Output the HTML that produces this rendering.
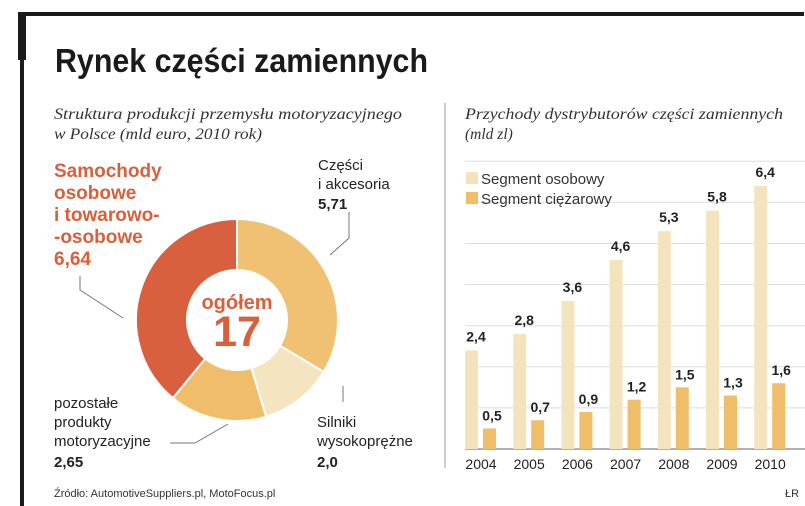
<!DOCTYPE html>
<html><head><meta charset="utf-8">
<style>
body{margin:0;background:#fff;width:805px;height:506px;overflow:hidden;font-family:"Liberation Sans",sans-serif;}
svg{display:block}
</style></head>
<body>
<svg width="805" height="506" viewBox="0 0 805 506" xmlns="http://www.w3.org/2000/svg">
<rect x="18" y="12" width="786" height="4" fill="#1a1a1a"/>
<rect x="18" y="12" width="8" height="48" fill="#1a1a1a"/>
<rect x="20" y="12" width="4" height="494" fill="#1a1a1a"/>
<text x="55" y="72" font-size="33" font-weight="bold" fill="#1a1a1a" textLength="373" lengthAdjust="spacingAndGlyphs">Rynek części zamiennych</text>
<text x="54" y="119" font-family="Liberation Serif" font-style="italic" font-size="15.5" fill="#333"><tspan x="54" textLength="348" lengthAdjust="spacingAndGlyphs">Struktura produkcji przemysłu motoryzacyjnego</tspan><tspan x="54" dy="20" textLength="208" lengthAdjust="spacingAndGlyphs">w Polsce (mld euro, 2010 rok)</tspan></text>
<text x="465" y="119" font-family="Liberation Serif" font-style="italic" font-size="15.5" fill="#333"><tspan x="465" textLength="318" lengthAdjust="spacingAndGlyphs">Przychody dystrybutorów części zamiennych</tspan><tspan x="465" dy="20">(mld zl)</tspan></text>
<line x1="445" y1="103" x2="445" y2="468" stroke="#bbb" stroke-width="1.5"/>
<g id="pie"></g>
<text x="54" y="177" font-size="19" font-weight="bold" fill="#d9603a"><tspan x="54">Samochody</tspan><tspan x="54" dy="22">osobowe</tspan><tspan x="54" dy="22">i towarowo-</tspan><tspan x="54" dy="22">-osobowe</tspan><tspan x="54" dy="22">6,64</tspan></text>
<text x="318" y="170" font-size="15" fill="#222"><tspan x="318">Części</tspan><tspan x="318" dy="19">i akcesoria</tspan><tspan x="318" dy="20" font-weight="bold">5,71</tspan></text>
<text x="317" y="427" font-size="15" fill="#222"><tspan x="317">Silniki</tspan><tspan x="317" dy="19">wysokoprężne</tspan><tspan x="317" dy="21" font-weight="bold">2,0</tspan></text>
<text x="54" y="408" font-size="15" fill="#222"><tspan x="54">pozostałe</tspan><tspan x="54" dy="19">produkty</tspan><tspan x="54" dy="19">motoryzacyjne</tspan><tspan x="54" dy="21" font-weight="bold">2,65</tspan></text>
<g fill="none" stroke="#777" stroke-width="1">
<polyline points="349,212 349,238 330,255"/>
<polyline points="80,276 80,290 123,318"/>
<polyline points="343,386 343,402"/>
<polyline points="170,443 195,443 228,424"/>
</g>
<text x="237" y="309" text-anchor="middle" font-size="20" font-weight="bold" fill="#d9603a">ogółem</text>
<text x="237" y="346" text-anchor="middle" font-size="43" font-weight="bold" fill="#d9603a">17</text>
<text x="54" y="497" font-size="11" fill="#333">Źródło: AutomotiveSuppliers.pl, MotoFocus.pl</text>
<text x="785" y="497" font-size="11" fill="#333">ŁR</text>
<g id="bars"></g>
<rect x="466" y="172" width="12" height="12" fill="#f3e4bd"/>
<text x="481" y="184" font-size="15" fill="#333">Segment osobowy</text>
<rect x="466" y="192" width="12" height="12" fill="#f0bd6a"/>
<text x="481" y="204" font-size="15" fill="#333">Segment ciężarowy</text>
</svg>
<script>
const pieLabels=["Części i akcesoria","Silniki wysokoprężne","pozostałe produkty","Samochody osobowe"];
const pieValues=[5.71,2.0,2.65,6.64];
const pieColors=["#f0c173","#f4e4bf","#f0bd6a","#d9603f"];
const years=["2004","2005","2006","2007","2008","2009","2010"];
const osobowy=[2.4,2.8,3.6,4.6,5.3,5.8,6.4];
const ciezarowy=[0.5,0.7,0.9,1.2,1.5,1.3,1.6];
const yTicks=[0,1,2,3,4,5,6,7];
const NS="http://www.w3.org/2000/svg";
function mk(t,a,p){const e=document.createElementNS(NS,t);for(const k in a)e.setAttribute(k,a[k]);p.appendChild(e);return e;}
const pie=document.getElementById('pie');
const cx=237,cy=320,R=101,r=50;
const tot=pieValues.reduce((a,b)=>a+b,0);
let ang=0;
function pt(a,rad){return [cx+rad*Math.sin(a),cy-rad*Math.cos(a)];}
pieValues.forEach((v,i)=>{
 const a0=ang,a1=ang+v/tot*2*Math.PI;ang=a1;
 const lg=(a1-a0)>Math.PI?1:0;
 const p0=pt(a0,R),p1=pt(a1,R),q1=pt(a1,r),q0=pt(a0,r);
 const d=`M${p0}A${R},${R} 0 ${lg} 1 ${p1}L${q1}A${r},${r} 0 ${lg} 0 ${q0}Z`;
 const s=mk('path',{d:d,fill:pieColors[i],stroke:'#fff','stroke-width':2},pie);
 
 
});
const g=document.getElementById('bars');
const base=449,unit=41.1,x0=465,step=48.2,bw=13;
const y=v=>base-v*unit;
yTicks.forEach(t=>{
 const l=mk('line',{x1:465,x2:805,y1:y(t),y2:y(t),stroke:t===0?'#999':'#ddd','stroke-width':t===0?1.5:1},g);
 
 
});
years.forEach((yr,i)=>{
 const x=x0+i*step;
 const b1=mk('rect',{x:x,y:y(osobowy[i]),width:bw,height:osobowy[i]*unit,fill:'#f3e4bd'},g);
 
 
 const b2=mk('rect',{x:x+18,y:y(ciezarowy[i]),width:bw,height:ciezarowy[i]*unit,fill:'#f0bd6a'},g);
 
 
 const t1=mk('text',{x:x+11,y:y(osobowy[i])-9,'text-anchor':'middle','font-size':14,'font-weight':'bold',fill:'#222'},g);
 t1.textContent=osobowy[i].toFixed(1).replace('.',',');
 
 
 const t2=mk('text',{x:x+27,y:y(ciezarowy[i])-8,'text-anchor':'middle','font-size':14,'font-weight':'bold',fill:'#222'},g);
 t2.textContent=ciezarowy[i].toFixed(1).replace('.',',');
 
 
 const tl=mk('text',{x:x+16,y:469,'text-anchor':'middle','font-size':14,fill:'#222'},g);
 tl.textContent=yr;
 
 
});
</script>
</body></html>
